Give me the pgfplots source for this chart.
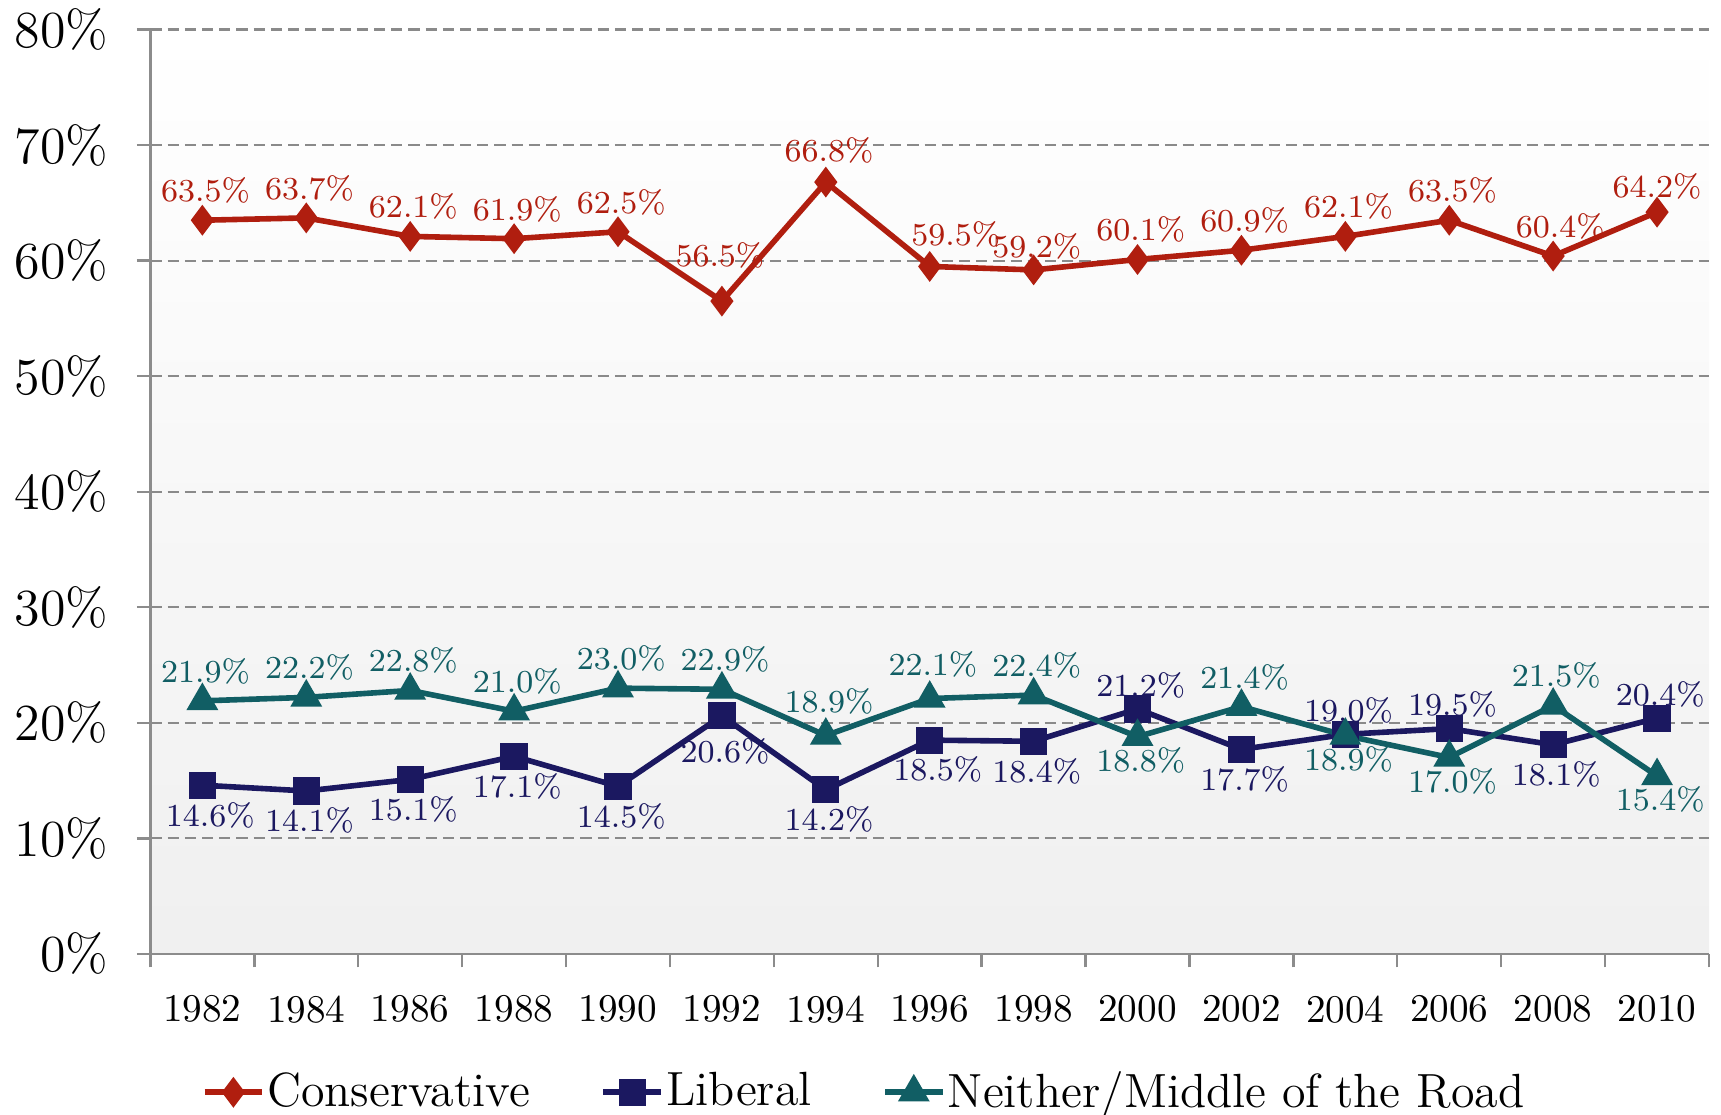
\documentclass[border=0pt]{standalone}
\usepackage{pgfplots}
\pgfplotsset{compat=1.18}
\usepackage{pgfplotstable}
\definecolor{cons}{HTML}{B01E0F}
\definecolor{lib}{HTML}{1B1860}
\definecolor{mid}{HTML}{115E64}
\definecolor{gridc}{HTML}{8A8A8A}
\definecolor{axisc}{HTML}{8C8C8C}

\pgfplotstableread{
x y
0 63.5
1 63.7
2 62.1
3 61.9
4 62.5
5 56.5
6 66.8
7 59.5
8 59.2
9 60.1
10 60.9
11 62.1
12 63.5
13 60.4
14 64.2
}\cons

\pgfplotstableread{
x y
0 14.6
1 14.1
2 15.1
3 17.1
4 14.5
5 20.6
6 14.2
7 18.5
8 18.4
9 21.2
10 17.7
11 19.0
12 19.5
13 18.1
14 20.4
}\lib

\pgfplotstableread{
x y
0 21.9
1 22.2
2 22.8
3 21.0
4 23.0
5 22.9
6 18.9
7 22.1
8 22.4
9 18.8
10 21.4
11 18.9
12 17.0
13 21.5
14 15.4
}\mid

\begin{document}
\begin{tikzpicture}
\begin{axis}[
  name=ax,
  scale only axis,
  width=389.6pt, height=231.05pt,
  xmin=-0.5, xmax=14.5, ymin=0, ymax=80,
  axis x line*=bottom, axis y line*=left,
  axis line style={draw=axisc, line width=0.6pt, -},
  axis background/.style={top color=white, bottom color=black!6},
  tick align=outside,
  major tick length=3.4pt,
  xtick={-0.5,0.5,...,14.5},
  xticklabels={},
  extra x ticks={0,1,...,14},
  extra x tick labels={1982,1984,1986,1988,1990,1992,1994,1996,1998,2000,2002,2004,2006,2008,2010},
  extra x tick style={major tick length=0pt, xticklabel style={anchor=north, inner ysep=0pt, yshift=-10.3pt, font=\fontsize{9.8}{11}\selectfont}},
  xtick style={draw=axisc, line width=0.6pt},
  ytick={0,10,...,80},
  yticklabels={0\%,10\%,20\%,30\%,40\%,50\%,60\%,70\%,80\%},
  ytick style={draw=axisc, line width=0.6pt},
  yticklabel style={anchor=east, inner xsep=0pt, xshift=-7pt, font=\fontsize{13}{15}\selectfont},
  ymajorgrids,
  major grid style={draw=gridc, line width=0.55pt, dash pattern=on 2.8pt off 1.5pt},
  point meta=y,
  nodes near coords={\pgfmathprintnumber[fixed,fixed zerofill,precision=1]{\pgfplotspointmeta}\%},
  every node near coord/.append style={xshift=0.8pt, inner ysep=3.5pt, inner xsep=0pt, font=\fontsize{8}{9}\selectfont},
  legend columns=3,
  legend style={at={(0.458,0)}, anchor=center, yshift=-34.6pt, draw=none, fill=none,
    font=\fontsize{12}{14}\selectfont,
    nodes={inner xsep=0.6pt},
    /tikz/every even column/.append style={column sep=17pt}},
  legend image code/.code={\draw[mark repeat=2, mark phase=2, #1] plot coordinates {(0pt,0pt) (7.2pt,0pt) (14.4pt,0pt)};},
]
\addplot[color=cons, line width=1.4pt, mark=diamond*, mark size=2.7pt, mark options={solid},
  every node near coord/.append style={text=cons, anchor=south},
  coordinate style/.condition={\coordindex==5}{xshift=-1.3pt, yshift=4pt},
  coordinate style/.condition={\coordindex==6}{yshift=0.5pt},
  coordinate style/.condition={\coordindex==7}{xshift=5.7pt, yshift=0.5pt},
  coordinate style/.condition={\coordindex==8}{yshift=-1.5pt},
  coordinate style/.condition={\coordindex==13}{xshift=1pt},
  coordinate style/.condition={\coordindex==14}{xshift=-0.8pt, yshift=-1pt},
  ] table[x=x,y=y] {\cons};
\addlegendentry{Conservative}
\addplot[color=lib, line width=1.4pt, mark=square*, mark size=2.7pt, mark options={solid},
  every node near coord/.append style={text=lib, anchor=north},
  coordinate style/.condition={\coordindex==9}{yshift=13.4pt},
  coordinate style/.condition={\coordindex==11}{yshift=13.4pt},
  coordinate style/.condition={\coordindex==12}{yshift=13.4pt},
  coordinate style/.condition={\coordindex==14}{yshift=13.4pt},
  coordinate style/.condition={\coordindex==0}{xshift=1.2pt},
  coordinate style/.condition={\coordindex==7}{xshift=1.2pt},
  coordinate style/.condition={\coordindex==5}{yshift=-1.5pt},
  ] table[x=x,y=y] {\lib};
\addlegendentry{Liberal}
\addplot[color=mid, line width=1.4pt, mark=triangle*, mark size=3.2pt, mark options={solid},
  every node near coord/.append style={text=mid, anchor=south},
  coordinate style/.condition={\coordindex==9}{yshift=-13.4pt},
  coordinate style/.condition={\coordindex==11}{yshift=-13.4pt},
  coordinate style/.condition={\coordindex==12}{yshift=-13.4pt},
  coordinate style/.condition={\coordindex==14}{yshift=-13.4pt},
  coordinate style/.condition={\coordindex==6}{yshift=1pt},
  coordinate style/.condition={\coordindex==7}{yshift=1pt},
  ] table[x=x,y=y] {\mid};
\addlegendentry{Neither/Middle of the Road}
\end{axis}
\pgfresetboundingbox
\path[use as bounding box] ([shift={(-37.6pt,-40.05pt)}]ax.south west) rectangle ([shift={(3pt,7.4pt)}]ax.north east);
\end{tikzpicture}
\end{document}
